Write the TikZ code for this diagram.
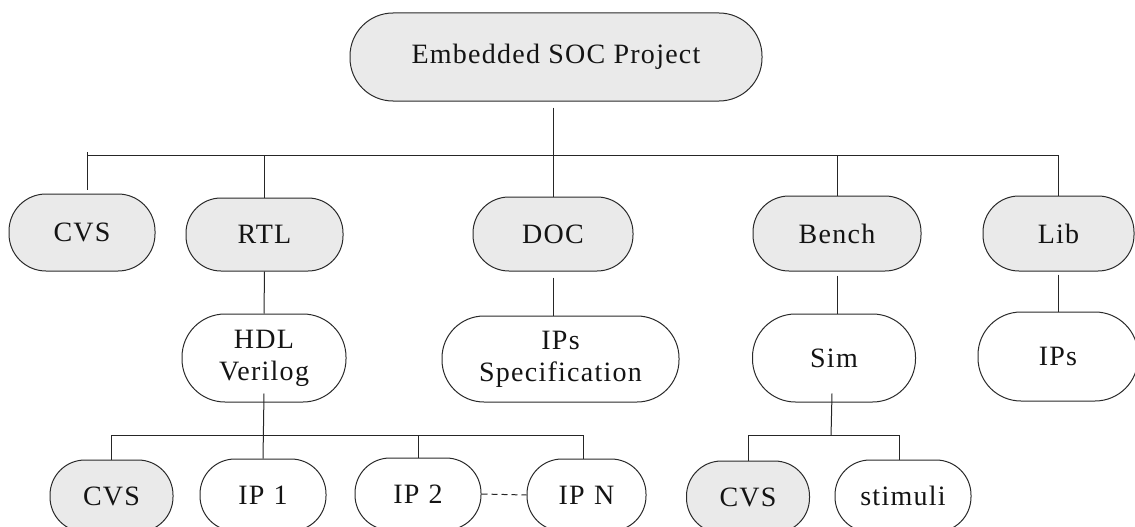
\documentclass[tikz,border=0pt]{standalone}
\usepackage{fontspec}
\setmainfont{Liberation Serif}[LetterSpace=4.5]
\usetikzlibrary{calc}
\definecolor{boxgrey}{HTML}{EAEAEA}
\definecolor{edge}{HTML}{2A2A2A}
\tikzset{
  box/.style={draw=edge, line width=1pt, rounded corners=35pt, align=center,
    text=black!92, font=\fontsize{28}{32}\selectfont, inner sep=0pt},
  greybox/.style={box, fill=boxgrey},
  whitebox/.style={box, fill=white},
  conn/.style={line width=1pt, draw=black!85},
}
\begin{document}
\begin{tikzpicture}[x=1pt,y=-1pt]
\useasboundingbox (0,0) rectangle (1135,527);
\clip (0,0) rectangle (1135,527);
\fill[white] (0,0) rectangle (1135,527);
% root
\node[greybox, minimum width=412pt, minimum height=88pt, rounded corners=43pt] (root) at (556,57) {Embedded SOC Project};
% level 1
\node[greybox, minimum width=146pt, minimum height=77pt, rounded corners=37pt] (cvsA) at (82,232.5) {CVS};
\node[greybox, minimum width=157pt, minimum height=73pt] (rtl) at (264.5,234.5) {RTL};
\node[greybox, minimum width=160pt, minimum height=74pt, rounded corners=36pt] (doc) at (553,234) {DOC};
\node[greybox, minimum width=168pt, minimum height=75pt, rounded corners=36pt] (bench) at (837,233.5) {Bench};
\node[greybox, minimum width=151pt, minimum height=75pt, rounded corners=36pt] (lib) at (1058.5,233.5) {Lib};
% level 2
\node[whitebox, minimum width=164pt, minimum height=88pt, rounded corners=43pt] (hdl) at (264,358) {HDL\\Verilog};
\node[whitebox, minimum width=237pt, minimum height=86pt, rounded corners=42pt] (spec) at (560.5,359) {IPs\\Specification};
\node[whitebox, minimum width=163pt, minimum height=88pt, rounded corners=43pt] (sim) at (834,358) {Sim};
\node[whitebox, minimum width=160pt, minimum height=89pt, rounded corners=43pt] (ips) at (1058,356.5) {IPs};
% level 3
\node[greybox, minimum width=123pt, minimum height=72pt] (cvsB) at (111.5,496) {CVS};
\node[whitebox, minimum width=126pt, minimum height=72pt] (ipone) at (263,495) {IP\,\,1};
\node[whitebox, minimum width=126pt, minimum height=72pt] (iptwo) at (418,494) {IP\,\,2};
\node[whitebox, minimum width=119pt, minimum height=72pt] (ipn) at (586.5,495) {IP\,\,N};
\node[greybox, minimum width=123pt, minimum height=72pt] (cvsC) at (748,497) {CVS};
\node[whitebox, minimum width=136pt, minimum height=72pt] (stim) at (903,496) {stimuli};
% bars
\coordinate (barAL) at (87.5,155);
\coordinate (barAR) at (1058.5,155);
\coordinate (barBL) at (111.5,435);
\coordinate (barBR) at (583,435);
\coordinate (barCL) at (748,435);
\coordinate (barCR) at (899,435);
% root connectors
\draw[conn] ($(doc.north |- root.south)+(0,6)$) -- (doc.north);
\draw[conn] (barAL) -- (barAR);
\draw[conn] ($(barAL)+(0,-3)$) -- ($(barAL |- cvsA.north)+(0,-4)$);
\draw[conn] (rtl.north |- barAL) -- (rtl.north);
\draw[conn] (bench.north |- barAL) -- (bench.north);
\draw[conn] (lib.north |- barAL) -- (lib.north);
% level 1 to level 2
\draw[conn] (rtl.south) -- (hdl.north);
\draw[conn] ($(doc.south)+(0,6)$) -- (doc.south |- spec.north);
\draw[conn] ($(bench.south)+(0,4)$) -- (bench.south |- sim.north);
\draw[conn] ($(lib.south)+(0,3)$) -- (lib.south |- ips.north);
% level 2 to level 3
\draw[conn] ($(hdl.south)+(0,-9)$) -- (ipone.north);
\draw[conn] (barBL) -- (barBR);
\draw[conn] (barBL) -- (barBL |- cvsB.north);
\draw[conn] (iptwo.north |- barBL) -- (iptwo.north);
\draw[conn] (barBR) -- (barBR |- ipn.north);
\draw[conn, dash pattern=on 6pt off 4pt] (iptwo.east) -- (ipn.west);
\draw[conn] ($(sim.south)+(-2,-9)$) -- ($(barCL)!0.55!(barCR)$);
\draw[conn] (barCL) -- (barCR);
\draw[conn] (barCL) -- (barCL |- cvsC.north);
\draw[conn] (barCR) -- (barCR |- stim.north);
\end{tikzpicture}
\end{document}
